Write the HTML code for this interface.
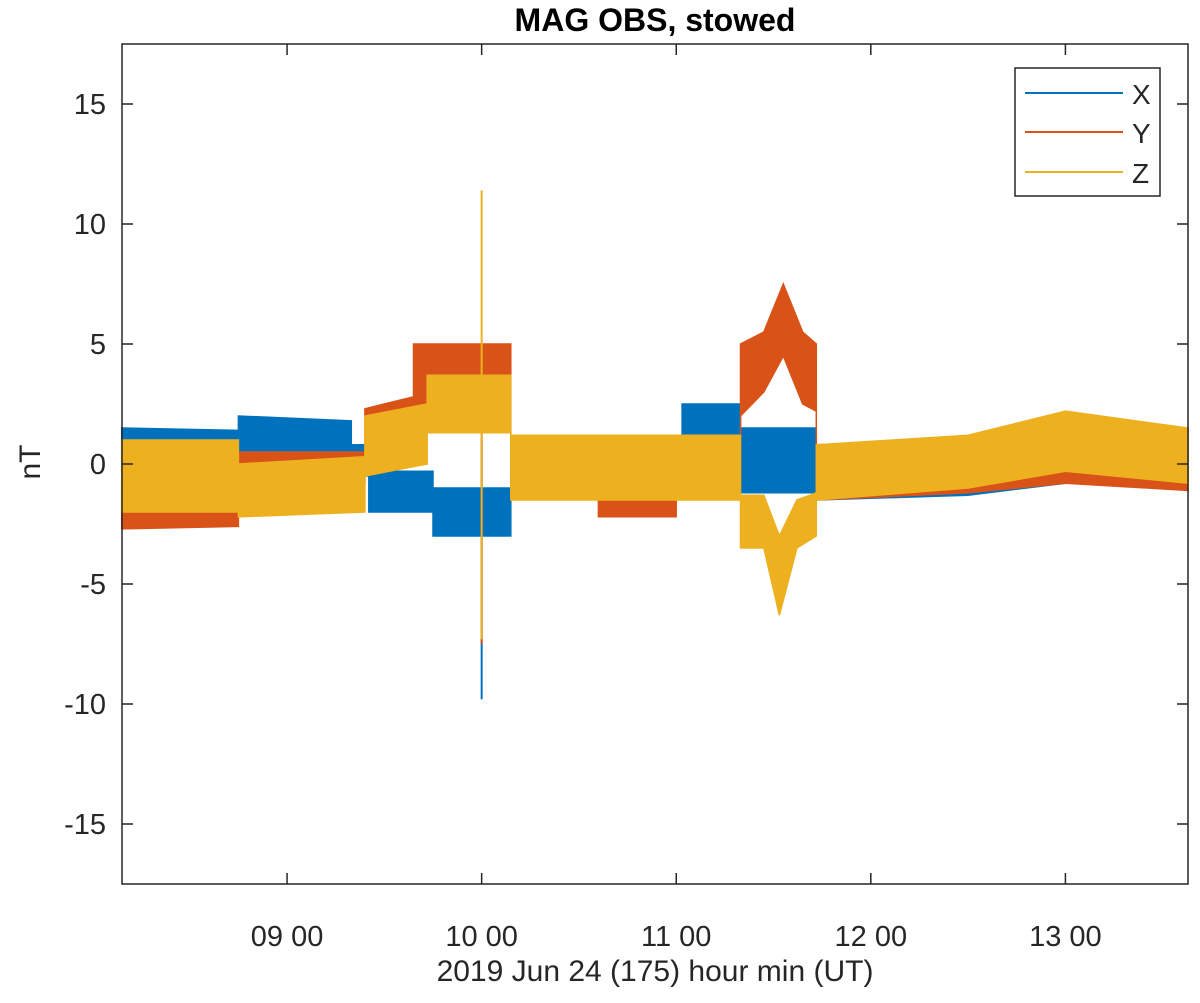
<!DOCTYPE html>
<html><head><meta charset="utf-8"><style>
html,body{margin:0;padding:0;background:#fff;}
svg text{font-family:"Liberation Sans",sans-serif;fill:#262626;}
</style></head><body>
<svg id="chart" width="1200" height="998" xmlns="http://www.w3.org/2000/svg">
<rect x="0" y="0" width="1200" height="998" fill="#fff"/>
<text x="655" y="31" font-size="32" font-weight="bold" text-anchor="middle" fill="#000" style="fill:#000">MAG OBS, stowed</text>
<g id="series"></g>
<g id="axes"></g>
<text transform="translate(40,462) rotate(-90)" font-size="30" text-anchor="middle">nT</text>
<text x="655" y="981" font-size="30" text-anchor="middle">2019 Jun 24 (175)  hour min (UT)</text>
<g>
<rect x="1015" y="68" width="145" height="128" fill="#fff" stroke="#262626" stroke-width="1.5"/>
<line x1="1025" y1="93" x2="1123" y2="93" stroke="#0072BD" stroke-width="2"/>
<text x="1132" y="104" font-size="28">X</text>
<line x1="1025" y1="132" x2="1123" y2="132" stroke="#D95319" stroke-width="2"/>
<text x="1132" y="143" font-size="28">Y</text>
<line x1="1025" y1="172" x2="1123" y2="172" stroke="#EDB120" stroke-width="2"/>
<text x="1132" y="183" font-size="28">Z</text>
</g>
</svg>
<script>
const xTicks=[9,10,11,12,13];
const xTickLabels=["09 00","10 00","11 00","12 00","13 00"];
const yTicks=[15,10,5,0,-5,-10,-15];
const yTickLabels=["15","10","5","0","-5","-10","-15"];
const tX=[8.15,8.75,8.75,9.33,9.33,9.42,9.42,9.75,9.75,10.15,10.15,11.03,11.03,11.33,11.33,11.72,11.72,12.5,13.0,13.63];
const loX=[-0.3,-0.3,0,0,-0.5,-0.5,-2,-2,-3,-3,-0.8,-0.8,0,0,-1.2,-1.2,-1.5,-1.3,-0.8,-0.6];
const hiX=[1.5,1.4,2,1.8,0.8,0.8,-0.3,-0.3,-1,-1,1,1,2.5,2.5,1.5,1.5,0.5,0.7,1.2,1.3];
const tY=[8.15,8.75,8.75,9.4,9.4,9.65,9.65,10.15,10.15,10.6,10.6,11.0,11.0,11.33,11.33,11.45,11.55,11.65,11.72,11.72,12.5,13.0,13.63];
const loY=[-2.7,-2.6,-1,-0.8,0.5,1,2,2,-0.5,-0.5,-2.2,-2.2,-1,-1,2,3,4.5,2.5,2.2,-1.5,-1.2,-0.8,-1.1];
const hiY=[-0.8,-0.6,0.5,0.5,2.3,2.8,5,5,1,1,0,0,1,1,5,5.5,7.5,5.5,5,0.8,1,2,1.5];
const tZ=[8.15,8.75,8.75,9.4,9.4,9.72,9.72,10.15,10.15,11.33,11.33,11.45,11.53,11.62,11.72,11.72,12.5,13.0,13.63];
const loZ=[-2,-2,-2.2,-2,-0.5,0,1.3,1.3,-1.5,-1.5,-3.5,-3.5,-6.3,-3.5,-3,-1.5,-1,-0.3,-0.8];
const hiZ=[1,1,0,0.3,2,2.5,3.7,3.7,1.2,1.2,-1.3,-1.3,-3,-1.5,-1.2,0.8,1.2,2.2,1.5];
const spikeTime=10.0;
const spikeLo=[-9.8,-7.5,-7.3];
const spikeHi=[1,5,11.4];
const colors=["#0072BD","#D95319","#EDB120"];

const L=122,R=1188,T=44,B=884,x0=8.1517,x1=13.63,y0=-17.5,y1=17.5;
const xs=t=>L+(t-x0)/(x1-x0)*(R-L);
const ys=v=>B-(v-y0)/(y1-y0)*(B-T);
const NS="http://www.w3.org/2000/svg";
const sg=document.getElementById('series');
const sets=[[tX,loX,hiX],[tY,loY,hiY],[tZ,loZ,hiZ]];
const names=['x','y','z'];
sets.forEach((s,i)=>{
  const [t,lo,hi]=s;
  let pts=[];
  for(let k=0;k<t.length;k++)pts.push(xs(t[k]).toFixed(1)+','+ys(hi[k]).toFixed(1));
  for(let k=t.length-1;k>=0;k--)pts.push(xs(t[k]).toFixed(1)+','+ys(lo[k]).toFixed(1));
  const p=document.createElementNS(NS,'polygon');
  p.setAttribute('points',pts.join(' '));
  p.setAttribute('fill',colors[i]);p.setAttribute('stroke',colors[i]);p.setAttribute('stroke-width','1.5');
  
  
  sg.appendChild(p);
  const l=document.createElementNS(NS,'line');
  l.setAttribute('x1',xs(spikeTime));l.setAttribute('x2',xs(spikeTime));
  l.setAttribute('y1',ys(spikeLo[i]));l.setAttribute('y2',ys(spikeHi[i]));
  l.setAttribute('stroke',colors[i]);l.setAttribute('stroke-width','2');
  
  
  sg.appendChild(l);
});
const ag=document.getElementById('axes');
function add(tag,attrs,txt){const e=document.createElementNS(NS,tag);for(const k in attrs)e.setAttribute(k,attrs[k]);if(txt)e.textContent=txt;ag.appendChild(e);return e;}
const box=add('rect',{x:L,y:T,width:R-L,height:B-T,fill:'none',stroke:'#262626','stroke-width':1.5});


xTicks.forEach((v,i)=>{const x=xs(v);
  add('line',{x1:x,x2:x,y1:B,y2:B-11,stroke:'#262626','stroke-width':1.5});
  add('line',{x1:x,x2:x,y1:T,y2:T+11,stroke:'#262626','stroke-width':1.5});
  const tx=add('text',{x:x,y:B+62,'font-size':29,'text-anchor':'middle'},xTickLabels[i]);
  
  
});
yTicks.forEach((v,i)=>{const y=ys(v);
  add('line',{x1:L,x2:L+11,y1:y,y2:y,stroke:'#262626','stroke-width':1.5});
  add('line',{x1:R,x2:R-11,y1:y,y2:y,stroke:'#262626','stroke-width':1.5});
  const tx=add('text',{x:L-16,y:y+10,'font-size':29,'text-anchor':'end'},yTickLabels[i]);
  
  
});
</script>
</body></html>
